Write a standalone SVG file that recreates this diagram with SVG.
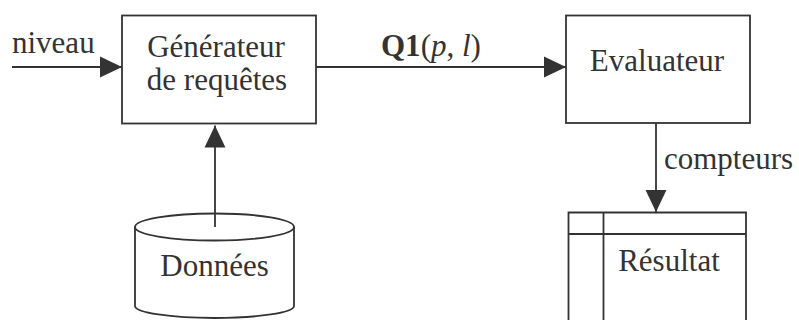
<svg xmlns="http://www.w3.org/2000/svg" width="799" height="320" viewBox="0 0 799 320">
<defs>
<style>
.box{fill:#fff;stroke:#333;stroke-width:1.8}
.ln{fill:none;stroke:#333;stroke-width:1.8}
.t{font-family:"Liberation Serif","Times New Roman",serif;font-size:31px;fill:#333}
</style>
<marker id="ah" markerUnits="userSpaceOnUse" markerWidth="22" markerHeight="22" viewBox="0 0 20 20" refX="20" refY="10" orient="auto">
<polygon points="0,0.5 20,10 0,19.5" fill="#333"/>
</marker>
</defs>
<rect width="799" height="320" fill="#fff"/>
<g id="generateur">
<rect class="box" x="122" y="15.5" width="194" height="108"/>
<text class="t" x="216" y="57" text-anchor="middle">Générateur</text>
<text class="t" x="217" y="90" text-anchor="middle">de requêtes</text>
</g>
<g id="evaluateur">
<rect class="box" x="566" y="15.5" width="184" height="107.5"/>
<text class="t" x="657" y="71" text-anchor="middle">Evaluateur</text>
</g>
<g id="donnees">
<path class="box" d="M135,227 L135,306 A79.5,12 0 0 0 294,306 L294,227"/>
<ellipse class="box" cx="214.5" cy="227" rx="79.5" ry="13.5"/>
<text class="t" x="214.5" y="276" text-anchor="middle">Données</text>
</g>
<g id="resultat">
<path class="ln" d="M568.5,325 L568.5,212.5 L746,212.5 L746,325 M568.5,234 L746,234 M603.5,212.5 L603.5,325"/>
<text class="t" x="669" y="271" text-anchor="middle">Résultat</text>
</g>
<g id="connecteurs">
<line class="ln" x1="12" y1="67" x2="122" y2="67" marker-end="url(#ah)"/>
<line class="ln" x1="316" y1="67" x2="566" y2="67" marker-end="url(#ah)"/>
<line class="ln" x1="215" y1="227" x2="215" y2="125.5" marker-end="url(#ah)"/>
<line class="ln" x1="656" y1="123" x2="656" y2="212" marker-end="url(#ah)"/>
<text class="t" x="12" y="53">niveau</text>
<text class="t" x="381" y="56"><tspan font-weight="bold">Q1</tspan>(<tspan font-style="italic">p</tspan>, <tspan font-style="italic">l</tspan>)</text>
<text class="t" x="664" y="169">compteurs</text>
</g>
</svg>
